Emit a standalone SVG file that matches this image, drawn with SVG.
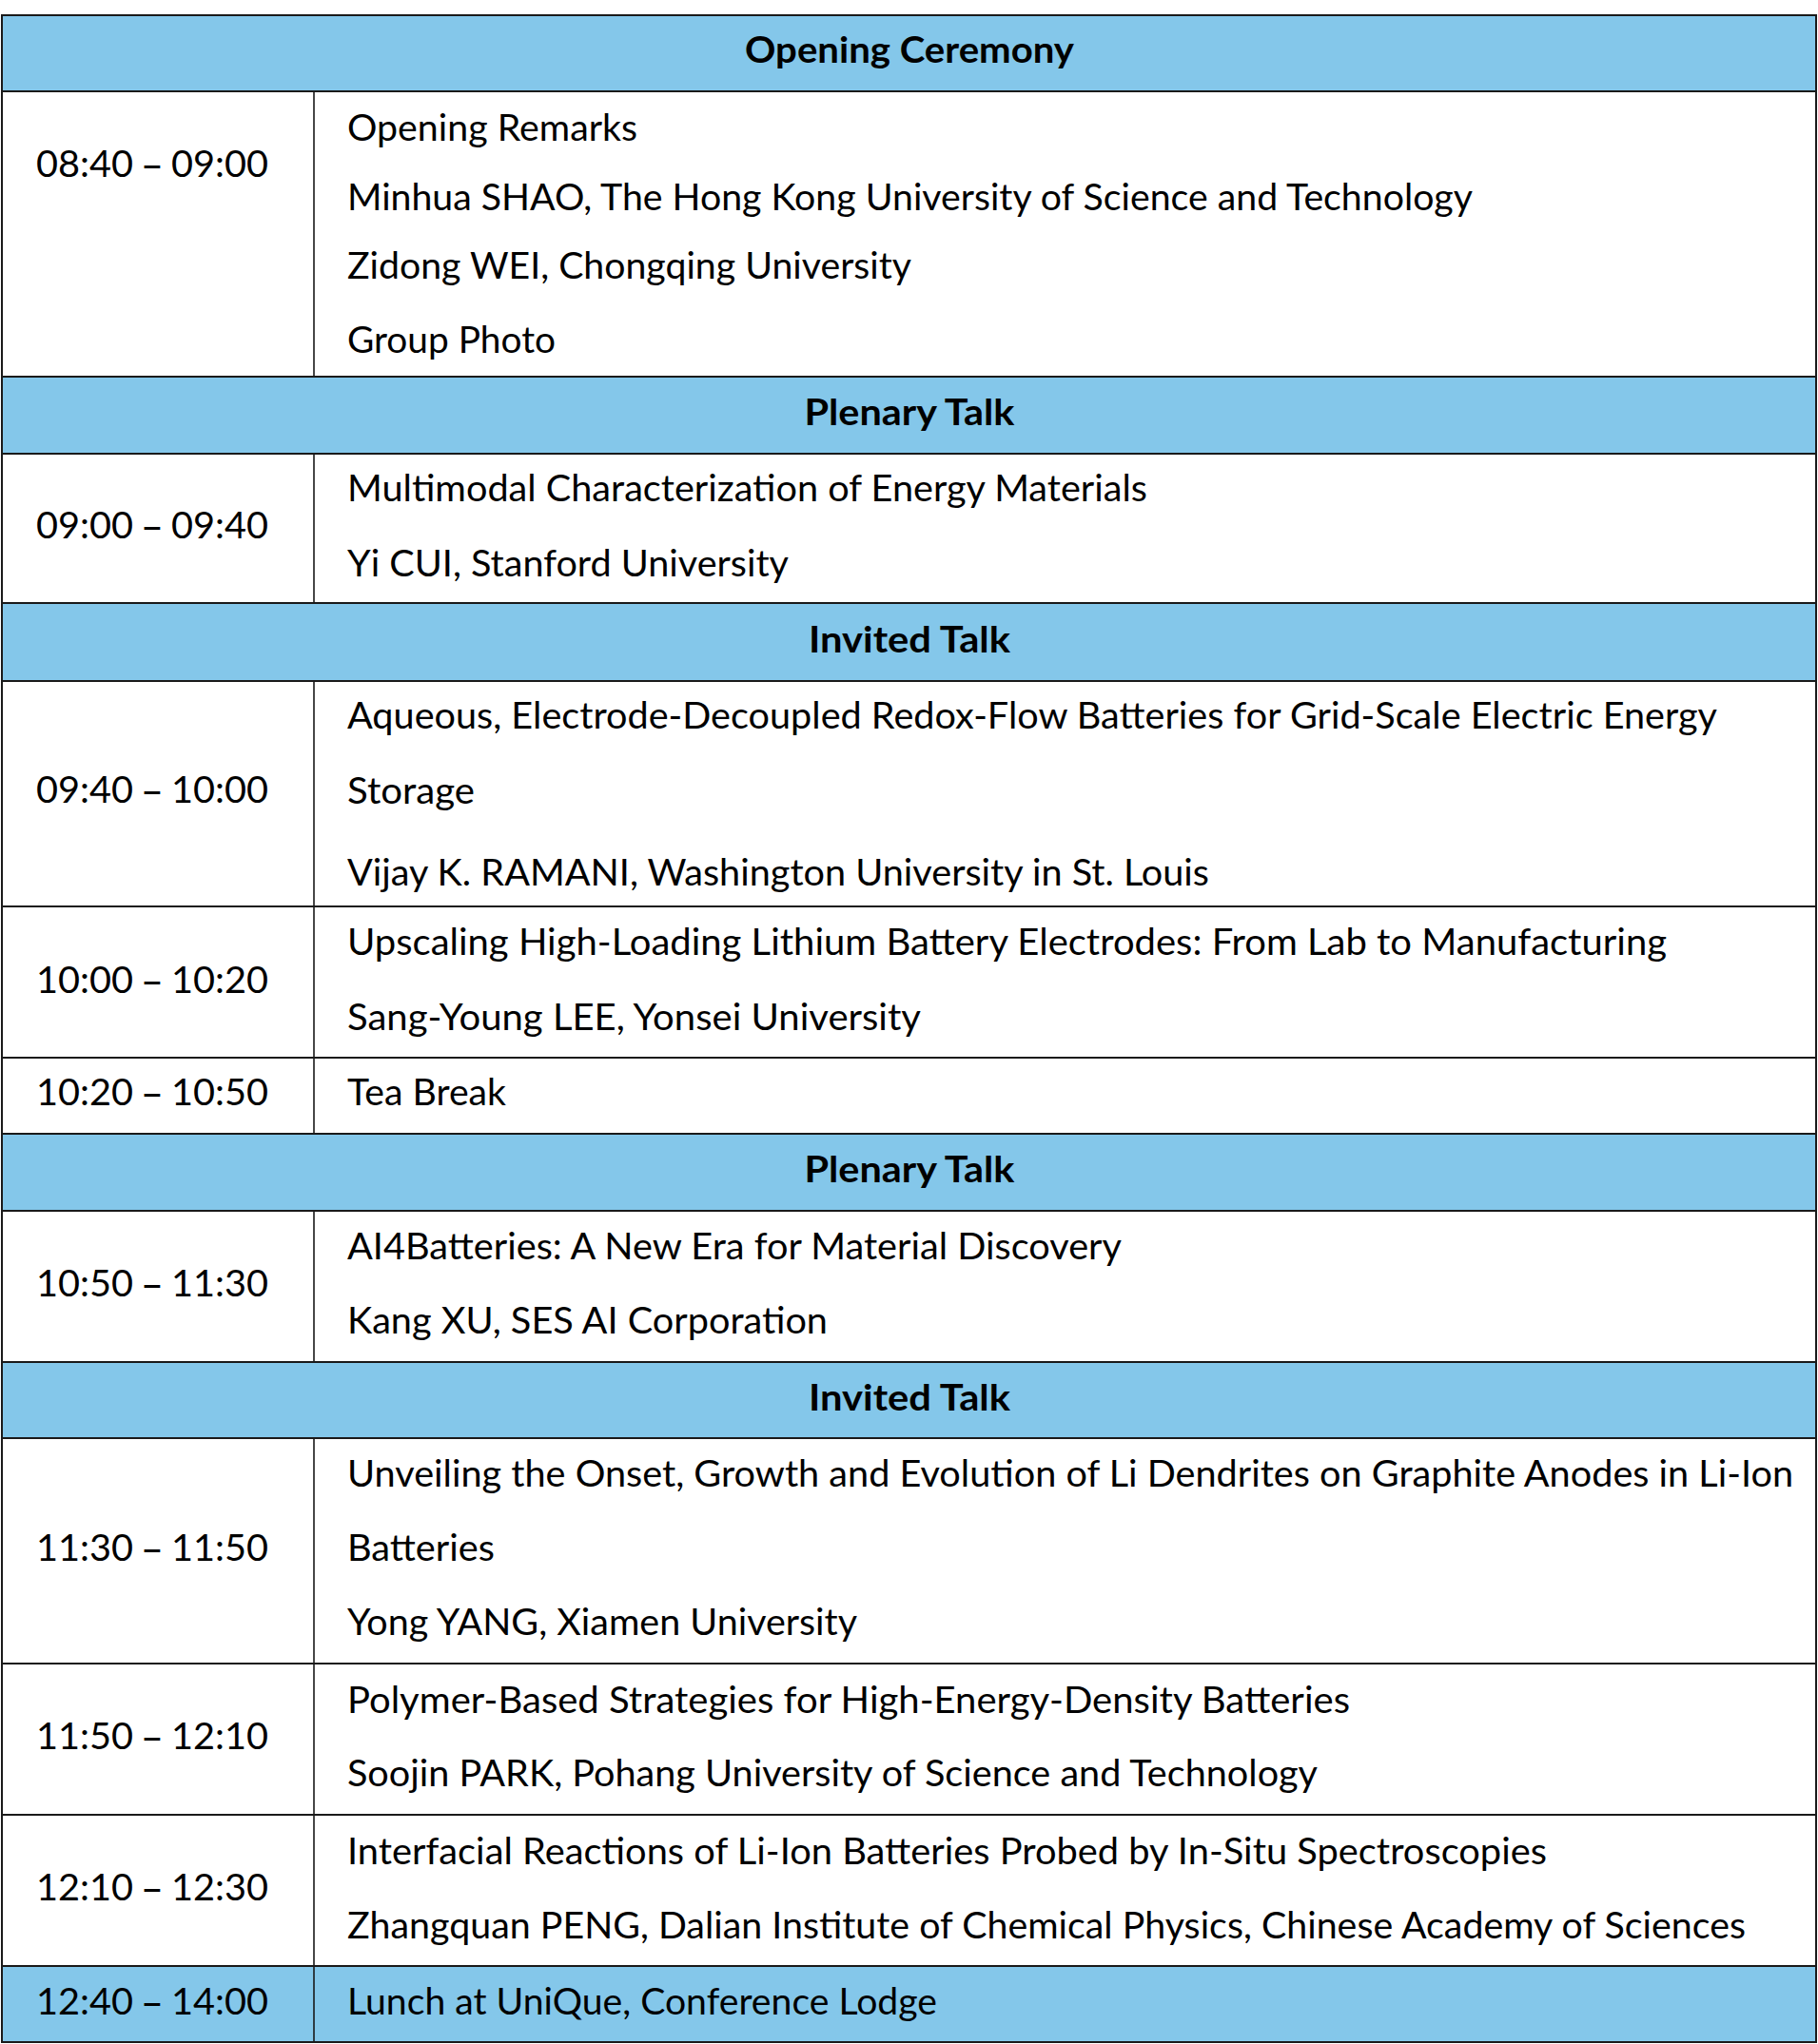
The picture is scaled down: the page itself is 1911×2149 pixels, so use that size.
<svg xmlns="http://www.w3.org/2000/svg" width="1911" height="2149" viewBox="0 0 1911 2149">
<style>
.bg{fill:#ffffff}
.hd{fill:#84c7ea}
.t{font-family:Lato,'Noto Sans',sans-serif;font-size:38px;fill:#000000}
.b{font-family:Lato,'Noto Sans',sans-serif;font-size:38px;font-weight:bold;fill:#000000;text-anchor:middle}
.d{font-family:'Noto Sans',sans-serif}
.ln{stroke:#1a1a1a;stroke-width:2;fill:none}
.vl{stroke:#1a1a1a;stroke-width:1.6;fill:none}
</style>
<rect x="0" y="0" width="1911" height="2149" class="bg"/>
<g id="fills">
<rect class="hd" x="2" y="16" width="1907" height="80"/>
<rect class="hd" x="2" y="396" width="1907" height="81"/>
<rect class="hd" x="2" y="634" width="1907" height="82"/>
<rect class="hd" x="2" y="1192" width="1907" height="81"/>
<rect class="hd" x="2" y="1432" width="1907" height="80"/>
<rect class="hd" x="2" y="2067" width="1907" height="80"/>
</g>
<g id="h1"><text class="b" x="956" y="65.5" textLength="346" lengthAdjust="spacingAndGlyphs">Opening Ceremony</text></g>
<g id="r1">
<text class="t" x="38" y="186" textLength="244" lengthAdjust="spacingAndGlyphs">08:40 <tspan class="d">–</tspan> 09:00</text>
<text class="t" x="365" y="147.5" textLength="305" lengthAdjust="spacingAndGlyphs">Opening Remarks</text>
<text class="t" x="365" y="220.5" textLength="1183" lengthAdjust="spacingAndGlyphs">Minhua SHAO, The Hong Kong University of Science and Technology</text>
<text class="t" x="365" y="293" textLength="593" lengthAdjust="spacingAndGlyphs">Zidong WEI, Chongqing University</text>
<text class="t" x="365" y="371" textLength="219" lengthAdjust="spacingAndGlyphs">Group Photo</text>
</g>
<g id="h2"><text class="b" x="956" y="446.5" textLength="221" lengthAdjust="spacingAndGlyphs">Plenary Talk</text></g>
<g id="r2">
<text class="t" x="38" y="566" textLength="244" lengthAdjust="spacingAndGlyphs">09:00 <tspan class="d">–</tspan> 09:40</text>
<text class="t" x="365" y="527" textLength="841" lengthAdjust="spacingAndGlyphs">Multimodal Characterization of Energy Materials</text>
<text class="t" x="365" y="606" textLength="464" lengthAdjust="spacingAndGlyphs">Yi CUI, Stanford University</text>
</g>
<g id="h3"><text class="b" x="956" y="685.5" textLength="212" lengthAdjust="spacingAndGlyphs">Invited Talk</text></g>
<g id="r3">
<text class="t" x="38" y="844" textLength="244" lengthAdjust="spacingAndGlyphs">09:40 <tspan class="d">–</tspan> 10:00</text>
<text class="t" x="365" y="766" textLength="1440" lengthAdjust="spacingAndGlyphs">Aqueous, Electrode-Decoupled Redox-Flow Batteries for Grid-Scale Electric Energy</text>
<text class="t" x="365" y="845" textLength="134" lengthAdjust="spacingAndGlyphs">Storage</text>
<text class="t" x="365" y="931" textLength="906" lengthAdjust="spacingAndGlyphs">Vijay K. RAMANI, Washington University in St. Louis</text>
</g>
<g id="r4">
<text class="t" x="38" y="1044" textLength="244" lengthAdjust="spacingAndGlyphs">10:00 <tspan class="d">–</tspan> 10:20</text>
<text class="t" x="365" y="1004" textLength="1387" lengthAdjust="spacingAndGlyphs">Upscaling High-Loading Lithium Battery Electrodes: From Lab to Manufacturing</text>
<text class="t" x="365" y="1082.5" textLength="603" lengthAdjust="spacingAndGlyphs">Sang-Young LEE, Yonsei University</text>
</g>
<g id="r5">
<text class="t" x="38" y="1162" textLength="244" lengthAdjust="spacingAndGlyphs">10:20 <tspan class="d">–</tspan> 10:50</text>
<text class="t" x="365" y="1162" textLength="167" lengthAdjust="spacingAndGlyphs">Tea Break</text>
</g>
<g id="h4"><text class="b" x="956" y="1243" textLength="221" lengthAdjust="spacingAndGlyphs">Plenary Talk</text></g>
<g id="r6">
<text class="t" x="38" y="1363" textLength="244" lengthAdjust="spacingAndGlyphs">10:50 <tspan class="d">–</tspan> 11:30</text>
<text class="t" x="365" y="1324" textLength="814" lengthAdjust="spacingAndGlyphs">AI4Batteries: A New Era for Material Discovery</text>
<text class="t" x="365" y="1402" textLength="505" lengthAdjust="spacingAndGlyphs">Kang XU, SES AI Corporation</text>
</g>
<g id="h5"><text class="b" x="956" y="1482.5" textLength="212" lengthAdjust="spacingAndGlyphs">Invited Talk</text></g>
<g id="r7">
<text class="t" x="38" y="1641" textLength="244" lengthAdjust="spacingAndGlyphs">11:30 <tspan class="d">–</tspan> 11:50</text>
<text class="t" x="365" y="1563" textLength="1520" lengthAdjust="spacingAndGlyphs">Unveiling the Onset, Growth and Evolution of Li Dendrites on Graphite Anodes in Li-Ion</text>
<text class="t" x="365" y="1641" textLength="155" lengthAdjust="spacingAndGlyphs">Batteries</text>
<text class="t" x="365" y="1719" textLength="536" lengthAdjust="spacingAndGlyphs">Yong YANG, Xiamen University</text>
</g>
<g id="r8">
<text class="t" x="38" y="1839" textLength="244" lengthAdjust="spacingAndGlyphs">11:50 <tspan class="d">–</tspan> 12:10</text>
<text class="t" x="365" y="1800.5" textLength="1054" lengthAdjust="spacingAndGlyphs">Polymer-Based Strategies for High-Energy-Density Batteries</text>
<text class="t" x="365" y="1878" textLength="1020" lengthAdjust="spacingAndGlyphs">Soojin PARK, Pohang University of Science and Technology</text>
</g>
<g id="r9">
<text class="t" x="38" y="1998" textLength="244" lengthAdjust="spacingAndGlyphs">12:10 <tspan class="d">–</tspan> 12:30</text>
<text class="t" x="365" y="1959.5" textLength="1261" lengthAdjust="spacingAndGlyphs">Interfacial Reactions of Li-Ion Batteries Probed by In-Situ Spectroscopies</text>
<text class="t" x="365" y="2037.5" textLength="1470" lengthAdjust="spacingAndGlyphs">Zhangquan PENG, Dalian Institute of Chemical Physics, Chinese Academy of Sciences</text>
</g>
<g id="r10">
<text class="t" x="38" y="2117.5" textLength="244" lengthAdjust="spacingAndGlyphs">12:40 <tspan class="d">–</tspan> 14:00</text>
<text class="t" x="365" y="2117.5" textLength="620" lengthAdjust="spacingAndGlyphs">Lunch at UniQue, Conference Lodge</text>
</g>
<g id="connectors">
<rect class="ln" x="2" y="16" width="1907" height="2131"/>
<path class="ln" d="M2 96H1909M2 396H1909M2 477H1909M2 634H1909M2 716H1909M2 953H1909M2 1112H1909M2 1192H1909M2 1273H1909M2 1432H1909M2 1512H1909M2 1749H1909M2 1908H1909M2 2067H1909"/>
<path class="vl" d="M330 96V396M330 477V634M330 716V1192M330 1273V1432M330 1512V2147"/>
</g>
</svg>
